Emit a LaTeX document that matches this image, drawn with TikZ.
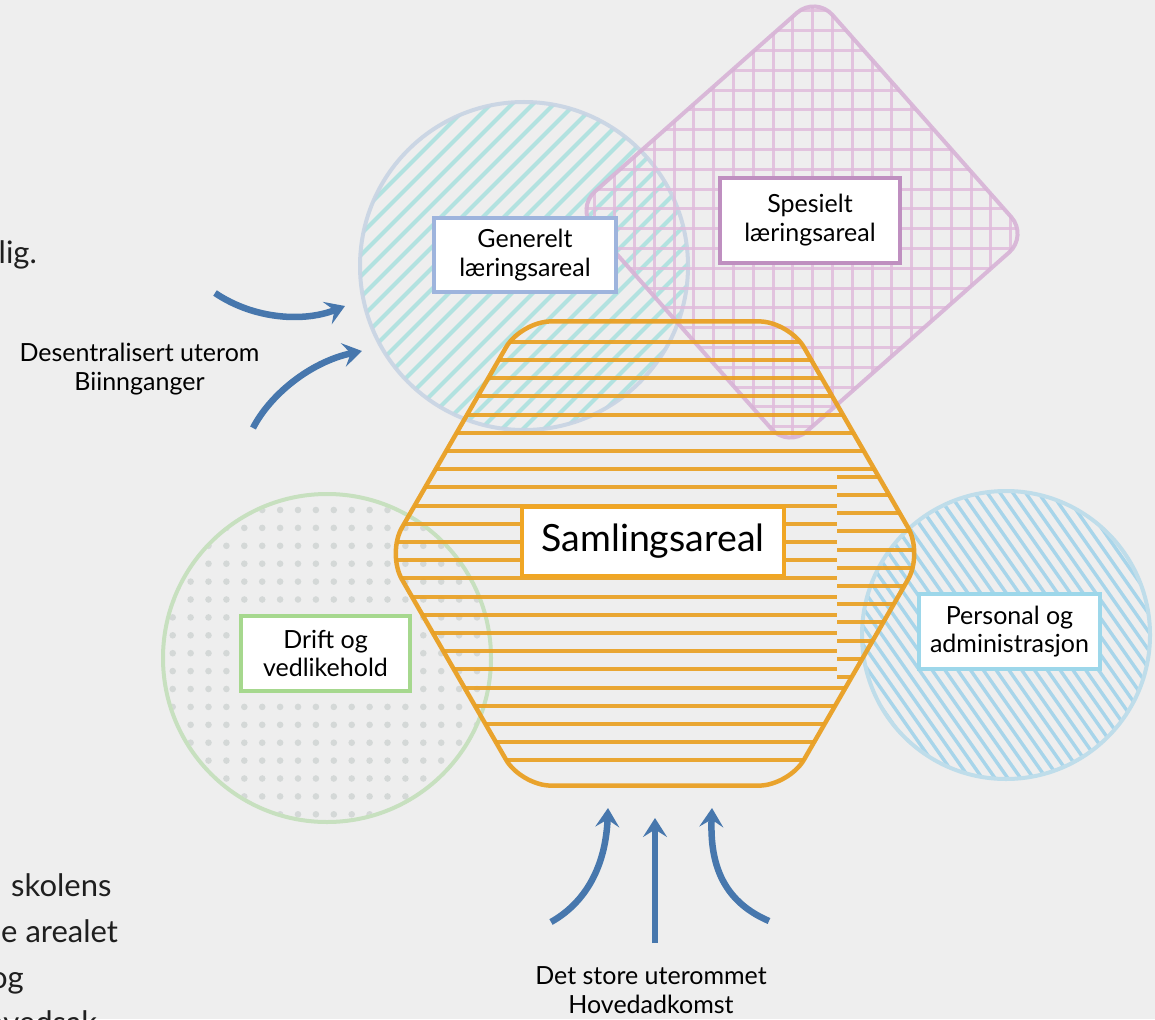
\documentclass[tikz,border=0pt]{standalone}
\usepackage{fontspec}
\setmainfont{Lato}
\usetikzlibrary{arrows.meta}

\definecolor{bg}{HTML}{EEEEEE}
\definecolor{arrowblue}{HTML}{4777AD}
\definecolor{genring}{HTML}{C8D4E4}
\definecolor{genhatch}{HTML}{B2E2E0}
\definecolor{genbox}{HTML}{9EB4DD}
\definecolor{speline}{HTML}{D7B3D6}
\definecolor{spegrid}{HTML}{E0BCDC}
\definecolor{spebox}{HTML}{BF8FC0}
\definecolor{samorange}{HTML}{E9A023}
\definecolor{sambox}{HTML}{F0A624}
\definecolor{drring}{HTML}{C7E0BF}
\definecolor{drdot}{HTML}{D4D8D7}
\definecolor{drbox}{HTML}{A6D88E}
\definecolor{perring}{HTML}{BFDDEA}
\definecolor{perhatch}{HTML}{A8D5EA}
\definecolor{perbox}{HTML}{9DD7EA}

\tikzset{
  area box/.style={draw=#1, fill=white, line width=4pt, align=center,
    inner sep=0pt, text=black, font=\fontsize{25}{28.5}\selectfont},
  caption/.style={align=center, inner sep=0pt, text=black,
    font=\fontsize{25}{28.5}\selectfont},
  body/.style={anchor=base west, inner sep=0pt, text=black!88,
    font=\fontsize{31}{45}\selectfont},
  flow/.style={draw=arrowblue, line width=6.5pt,
    -{Stealth[length=19pt,width=24pt,inset=7.5pt]}},
}

\begin{document}
\begin{tikzpicture}[x=1pt,y=-1pt]
\fill[bg] (0,0) rectangle (1155,1019);
\useasboundingbox (0,0) rectangle (1155,1019);

% ---------- Drift og vedlikehold: dotted circle ----------
\begin{scope}
  \clip (327,658) circle[radius=162];
  \foreach \i in {0,...,18}
    \foreach \j in {-1,...,17}
      \fill[drdot] ({172.7+17.9*\i},{510+17.9*\j}) circle[radius=3.3];
\end{scope}
\draw[drring, line width=4pt] (327,658) circle[radius=164];

% ---------- Generelt laeringsareal: hatched circle ----------
\begin{scope}
  \clip (524,266) circle[radius=164];
  \foreach \k in {-4,...,24}
    \draw[genhatch, line width=4pt]
      ({595+21*\k-60},60) -- ({595+21*\k-470},470);
\end{scope}
\draw[genring, line width=4pt, opacity=0.9] (524,266) circle[radius=164];

% ---------- Personal og administrasjon: hatched circle ----------
\begin{scope}
  \clip (1006,635) circle[radius=144];
  \foreach \k in {-9,...,22}
    \draw[perhatch, line width=3.4pt]
      ({488.7+12.8*\k+0.7*470},470) -- ({488.7+12.8*\k+0.7*800},800);
\end{scope}
\draw[perring, line width=4pt] (1006,635) circle[radius=144];

% ---------- Spesielt laeringsareal: gridded rounded diamond ----------
\begin{scope}[opacity=0.85]
  \begin{scope}
    \clip[rounded corners=25pt] (921.83,115.98) -- (1027.85,235.81)
      -- (788.19,447.85) -- (576.15,208.19) -- (815.8,-3.85) -- cycle;
    \foreach \k in {-12,...,11}
      \draw[spegrid, line width=3pt] ({812.7+19.8*\k},-10) -- ({812.7+19.8*\k},460);
    \foreach \k in {-2,...,22}
      \draw[spegrid, line width=3pt] (570,{30.7+19.8*\k}) -- (1035,{30.7+19.8*\k});
  \end{scope}
\end{scope}
\draw[speline, line width=4pt, rounded corners=25pt, opacity=0.9]
  (921.83,115.98) -- (1027.85,235.81) -- (788.19,447.85)
  -- (576.15,208.19) -- (815.8,-3.85) -- cycle;

% ---------- Samlingsareal: striped rounded hexagon ----------
\begin{scope}[opacity=0.92]
  \begin{scope}
    \clip[rounded corners=30pt] (655,321.4) -- (789,321.4) -- (923,553.5)
      -- (789,785.6) -- (521,785.6) -- (387,553.5) -- (521,321.4) -- cycle;
    % full-width stripes
    \foreach \k in {1,...,8,20,21,22,23,24}
      \draw[samorange, line width=4pt] (380,{323.5+18.2*\k}) -- (930,{323.5+18.2*\k});
    % stripes that stop at the seam of the pattern tile
    \foreach \k in {9,...,19}
      \draw[samorange, line width=4pt] (380,{323.5+18.2*\k}) -- (837,{323.5+18.2*\k});
    % offset stripes right of the seam
    \foreach \k in {0,...,11}
      \draw[samorange, line width=4pt] (837,{476.7+18.2*\k}) -- (930,{476.7+18.2*\k});
  \end{scope}
\end{scope}
\draw[samorange, line width=4.5pt, rounded corners=30pt, opacity=0.95]
  (655,321.4) -- (789,321.4) -- (923,553.5) -- (789,785.6)
  -- (521,785.6) -- (387,553.5) -- (521,321.4) -- cycle;

% ---------- labels of the areas ----------
\node[area box=genbox, minimum width=182pt, minimum height=74pt]
  (generelt) at (525,255) {Generelt\\læringsareal};
\node[area box=spebox, minimum width=180pt, minimum height=85pt]
  (spesielt) at (810,220) {Spesielt\\læringsareal};
\node[area box=drbox, minimum width=169pt, minimum height=75pt]
  (drift) at (325.5,653.5) {Drift og\\vedlikehold};
\node[area box=perbox, minimum width=181pt, minimum height=75pt]
  (personal) at (1009.5,631.5) {Personal og\\administrasjon};
\node[area box=sambox, minimum width=262pt, minimum height=69pt,
  font=\fontsize{37.5}{40}\selectfont]
  (samling) at (653,541.5) {Samlingsareal};

% ---------- entrances ----------
\coordinate (d1s) at (215,293);
\coordinate (d1e) at (345,306);
\coordinate (d2s) at (253,428);
\coordinate (d2e) at (362,351);
\coordinate (h1s) at (551,922);
\coordinate (h1e) at (608,808);
\coordinate (h2s) at (655,943);
\coordinate (h2e) at (655,818);
\coordinate (h3s) at (769,921);
\coordinate (h3e) at (712,808);

\draw[flow] (d1s) .. controls (255,320) and (305,322) .. (d1e);
\draw[flow] (d2s) .. controls (270,395) and (310,362) .. (d2e);
\draw[flow] (h1s) .. controls (590,900) and (606,860) .. (h1e);
\draw[flow] (h2s) -- (h2e);
\draw[flow] (h3s) .. controls (720,900) and (710,860) .. (h3e);

\node[caption] (desentral) at (139.5,369) {Desentralisert uterom\\Biinnganger};
\node[caption] (hovedadk) at (651,990) {Det store uterommet\\Hovedadkomst};

% ---------- running text at the left margin ----------
\node[body] (t1) at (-1.5,263) {lig.};
\node[body] (t2) at (11,896.5) {skolens};
\node[body] (t3) at (1,942) {e arealet};
\node[body] (t4) at (-10,988) {og};
\node[body] (t5) at (-14,1033.5) {ovedsak};
\end{tikzpicture}
\end{document}
